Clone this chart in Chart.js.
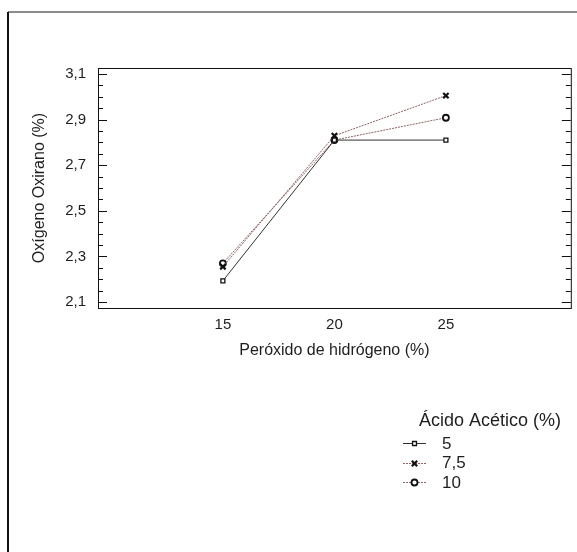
<!DOCTYPE html>
<html>
<head>
<meta charset="utf-8">
<script src="https://cdn.jsdelivr.net/npm/chart.js@4/dist/chart.umd.min.js"></script>
<style>
  html, body { margin: 0; padding: 0; background: #fff; }
  #wrap { width: 577px; height: 552px; }
</style>
</head>
<body>
<div id="wrap"><canvas id="chart" width="577" height="552"></canvas></div>
<script>
const peroxide = [15, 20, 25];
const acid5 = [2.193, 2.81, 2.81];
const acid75 = [2.255, 2.829, 3.005];
const acid10 = [2.27, 2.81, 2.908];
const seriesLabels = ['5', '7,5', '10'];
const yTicks = [2.1, 2.3, 2.5, 2.7, 2.9, 3.1];
const yMinorStep = 0.05;

const FONT = 'Arial, "Liberation Sans", sans-serif';
const INK = '#1e1e1e';
const dotted = '#8e6464';

const toPoints = (vals) => peroxide.map((x, i) => ({ x, y: vals[i] }));
const comma = (v) => String(v).replace('.', ',');

// plot frame, inner ticks and outer page border
const framePlugin = {
	id: 'frame',
	beforeDraw(chart) {
		const ctx = chart.ctx;
		ctx.save();
		ctx.fillStyle = '#fff';
		ctx.fillRect(0, 0, chart.width, chart.height);
		ctx.fillStyle = '#8c8c8c';
		ctx.fillRect(8, 11, chart.width - 8, 2);
		ctx.fillStyle = '#111';
		ctx.fillRect(7, 12, 2, chart.height - 12);
		ctx.restore();
	},
	afterDraw(chart) {
		const { ctx, chartArea: a } = chart;
		const y = chart.scales.y;
		ctx.save();
		ctx.strokeStyle = '#111';
		ctx.lineWidth = 1;
		ctx.strokeRect(a.left + 0.5, a.top + 0.5, a.right - a.left, a.bottom - a.top);
		ctx.beginPath();
		for (let v = yTicks[0]; v <= yTicks.at(-1) + 1e-9; v += yMinorStep) {
			const major = yTicks.some((t) => Math.abs(t - v) < 1e-6);
			const len = major ? 9 : 5;
			const py = Math.round(y.getPixelForValue(v)) + 0.5;
			ctx.moveTo(a.left, py);
			ctx.lineTo(a.left + len, py);
			ctx.moveTo(a.right, py);
			ctx.lineTo(a.right - len, py);
		}
		ctx.stroke();
		ctx.restore();
	},
};

// legend block in the lower right
const legendPlugin = {
	id: 'customLegend',
	afterDraw(chart) {
		const ctx = chart.ctx;
		ctx.save();
		ctx.fillStyle = INK;
		ctx.font = '18px ' + FONT;
		ctx.textBaseline = 'middle';
		ctx.fillText('Ácido Acético (%)', 419, 421);
		ctx.font = '17px ' + FONT;
		chart.data.datasets.forEach((ds, i) => {
			const cy = 443 + i * 19.5;
			ctx.strokeStyle = ds.borderColor;
			ctx.lineWidth = 1;
			ctx.setLineDash(ds.borderDash || []);
			ctx.beginPath();
			ctx.moveTo(403, Math.round(cy) + 0.5);
			ctx.lineTo(426, Math.round(cy) + 0.5);
			ctx.stroke();
			ctx.setLineDash([]);
			ctx.strokeStyle = ds.pointBorderColor;
			ctx.fillStyle = ds.pointBackgroundColor;
			ctx.lineWidth = ds.pointBorderWidth;
			Chart.helpers.drawPoint(ctx, {
				pointStyle: ds.pointStyle,
				radius: ds.pointRadius,
				borderWidth: ds.pointBorderWidth,
			}, 414.5, Math.round(cy) + 0.5);
			ctx.fillStyle = INK;
			ctx.fillText(ds.label, 442, cy + 1);
		});
		ctx.restore();
	},
};

const makeSet = (label, vals, color, dash, style, radius, bw) => ({
	label,
	data: toPoints(vals),
	borderColor: color,
	borderWidth: 1,
	borderDash: dash,
	pointStyle: style,
	pointRadius: radius,
	pointBorderWidth: bw,
	pointBorderColor: '#111',
	pointBackgroundColor: '#fff',
	fill: false,
	tension: 0,
});

new Chart(document.getElementById('chart'), {
	type: 'line',
	data: {
		datasets: [
			makeSet(seriesLabels[0], acid5, '#333', [], 'rect', 2.8, 1.3),
			makeSet(seriesLabels[1], acid75, dotted, [2, 1], 'crossRot', 3.8, 2.2),
			makeSet(seriesLabels[2], acid10, dotted, [2, 1], 'circle', 3, 1.8),
		],
	},
	options: {
		responsive: false,
		animation: false,
		events: [],
		layout: { padding: { left: 0, right: 6, top: 68, bottom: 0 } },
		plugins: { legend: { display: false }, tooltip: { enabled: false } },
		scales: {
			x: {
				type: 'linear',
				min: 9.4,
				max: 30.6,
				afterBuildTicks: (s) => { s.ticks = peroxide.map((v) => ({ value: v })); },
				afterFit: (s) => { s.height = 244; },
				grid: { display: false, drawTicks: false },
				border: { display: false },
				ticks: { color: INK, padding: 8, font: { size: 15, family: FONT }, callback: (v) => comma(v) },
				title: {
					display: true,
					text: 'Peróxido de hidrógeno (%)',
					color: INK,
					font: { size: 16, family: FONT },
					padding: { top: 0, bottom: 192 },
				},
			},
			y: {
				min: 2.074,
				max: 3.126,
				afterBuildTicks: (s) => { s.ticks = yTicks.map((v) => ({ value: v })); },
				afterFit: (s) => { s.width = 98; },
				grid: { display: false, drawTicks: false },
				border: { display: false },
				ticks: { color: INK, padding: 12, font: { size: 15, family: FONT }, callback: (v) => comma(v) },
				title: {
					display: true,
					text: 'Oxígeno Oxirano (%)',
					color: INK,
					font: { size: 16, family: FONT },
					padding: { top: 30, bottom: 0 },
				},
			},
		},
	},
	plugins: [framePlugin, legendPlugin],
});
</script>
</body>
</html>
